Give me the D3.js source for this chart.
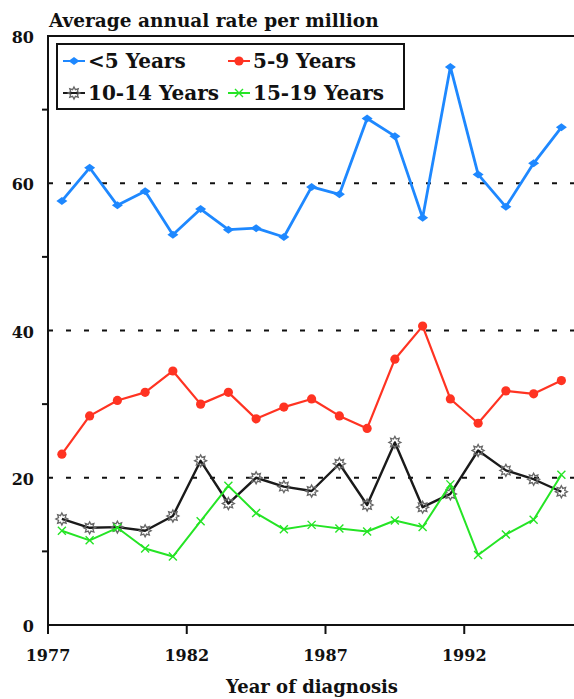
<!DOCTYPE html>
<html>
<head>
<meta charset="utf-8">
<script src="https://cdn.jsdelivr.net/npm/d3@7"></script>
<style>
  html, body { margin: 0; padding: 0; background: #fff; }
  svg { display: block; }
  text { font-family: "DejaVu Serif", serif; font-weight: bold; fill: #111; }
</style>
</head>
<body>
<svg id="chart" width="574" height="699"></svg>
<script>
// Diagnosis years (one value per year)
const years = d3.range(1977, 1996);

// Average annual rate per million, by age group at diagnosis
const under5   = [57.6, 62.1, 57.0, 58.9, 53.0, 56.5, 53.7, 53.9, 52.7, 59.5, 58.5, 68.8, 66.4, 55.3, 75.8, 61.2, 56.8, 62.7, 67.6];
const age5to9  = [23.2, 28.4, 30.5, 31.6, 34.5, 30.0, 31.6, 28.0, 29.6, 30.7, 28.4, 26.7, 36.1, 40.6, 30.7, 27.4, 31.8, 31.4, 33.2];
const age10to14 = [14.4, 13.2, 13.3, 12.8, 14.8, 22.3, 16.5, 20.0, 18.8, 18.2, 21.9, 16.3, 24.8, 16.0, 17.8, 23.7, 21.0, 19.8, 18.1];
const age15to19 = [12.8, 11.5, 13.2, 10.4, 9.3, 14.1, 18.9, 15.2, 13.0, 13.6, 13.1, 12.7, 14.2, 13.3, 19.1, 9.5, 12.3, 14.3, 20.4];

const seriesNames = ["<5 Years", "5-9 Years", "10-14 Years", "15-19 Years"];
const xTickYears = [1977, 1982, 1987, 1992];
const yMajorTicks = [0, 20, 40, 60, 80];
const yGridTicks = [20, 40, 60];
const yMinorTicks = [10, 30, 50, 70];

(function () {
const svg = d3.select("#chart");
const W = 574;

const plotLeft = 48, plotTop = 36, plotBottom = 625;
const x = d3.scaleLinear().domain([1977, 1996]).range([plotLeft, plotLeft + 19 * 27.75]);
const y = d3.scaleLinear().domain([0, 80]).range([plotBottom, plotTop]);

// marker shapes
const diamond = "M-5.5,0L0,-4L5.5,0L0,4Z";
function starPath(n, ro, ri) {
  const pts = [];
  for (let i = 0; i < 2 * n; i++) {
    const a = Math.PI * i / n - Math.PI / 2;
    const r = i % 2 === 0 ? ro : ri;
    pts.push([r * Math.cos(a), r * Math.sin(a)]);
  }
  return "M" + pts.map(p => p[0].toFixed(2) + "," + p[1].toFixed(2)).join("L") + "Z";
}
const star = starPath(8, 6, 3.6);
const cross = "M-4,-4L4,4M-4,4L4,-4";

const series = [
  { name: seriesNames[0], values: under5,    color: "#1e88ff", width: 2.8, marker: "diamond" },
  { name: seriesNames[1], values: age5to9,   color: "#ff3322", width: 2.2, marker: "circle" },
  { name: seriesNames[2], values: age10to14, color: "#1a1a1a", width: 2.4, marker: "star" },
  { name: seriesNames[3], values: age15to19, color: "#25e425", width: 2.0, marker: "cross" }
];

function drawMarker(g, s, cx, cy) {
  if (s.marker === "diamond") {
    g.append("path").attr("d", diamond).attr("transform", `translate(${cx},${cy})`).attr("fill", s.color);
  } else if (s.marker === "circle") {
    g.append("circle").attr("cx", cx).attr("cy", cy).attr("r", 4.6).attr("fill", s.color);
  } else if (s.marker === "star") {
    g.append("path").attr("d", star).attr("transform", `translate(${cx},${cy})`)
      .attr("fill", "none").attr("stroke", "#666").attr("stroke-width", 1.3);
  } else {
    g.append("path").attr("d", cross).attr("transform", `translate(${cx},${cy})`)
      .attr("fill", "none").attr("stroke", s.color).attr("stroke-width", 1.4);
  }
}

// dashed reference lines
svg.append("g").selectAll("line").data(yGridTicks).join("line")
  .attr("x1", plotLeft).attr("x2", W).attr("y1", d => y(d)).attr("y2", d => y(d))
  .attr("stroke", "#111").attr("stroke-width", 1.8).attr("stroke-dasharray", "5,13");

// frame: left axis, top line, bottom axis
const frame = svg.append("g").attr("stroke", "#111").attr("stroke-width", 2);
frame.append("line").attr("x1", plotLeft).attr("x2", plotLeft).attr("y1", plotTop).attr("y2", plotBottom + 9);
frame.append("line").attr("x1", plotLeft - 1).attr("x2", W).attr("y1", plotTop).attr("y2", plotTop);
frame.append("line").attr("x1", plotLeft - 1).attr("x2", W).attr("y1", plotBottom).attr("y2", plotBottom);

// y ticks and labels
frame.selectAll(".ymin").data(yMinorTicks).join("line")
  .attr("x1", plotLeft - 6).attr("x2", plotLeft).attr("y1", d => y(d)).attr("y2", d => y(d));
svg.append("g").selectAll("text").data(yMajorTicks).join("text")
  .attr("x", 34).attr("y", d => y(d) + 7)
  .attr("text-anchor", "end").attr("font-size", 16).text(d => d);

// x ticks and labels
frame.selectAll(".xt").data(xTickYears.slice(1)).join("line")
  .attr("x1", d => x(d)).attr("x2", d => x(d)).attr("y1", plotBottom).attr("y2", plotBottom + 9);
svg.append("g").selectAll("text").data(xTickYears).join("text")
  .attr("x", d => x(d)).attr("y", 661)
  .attr("text-anchor", "middle").attr("font-size", 16).text(d => d);

// titles
svg.append("text").attr("x", 49).attr("y", 27).attr("font-size", 18.5).text("Average annual rate per million");
svg.append("text").attr("x", 312).attr("y", 693).attr("text-anchor", "middle").attr("font-size", 18).text("Year of diagnosis");

// series
const line = d3.line().x((d, i) => x(years[i] + 0.5)).y(d => y(d));
series.forEach(s => {
  const g = svg.append("g");
  g.append("path").datum(s.values).attr("d", line)
    .attr("fill", "none").attr("stroke", s.color).attr("stroke-width", s.width)
    .attr("stroke-linejoin", "round");
  s.values.forEach((v, i) => drawMarker(g, s, x(years[i] + 0.5), y(v)));
});

// legend
const lg = svg.append("g");
lg.append("rect").attr("x", 57).attr("y", 44).attr("width", 347).attr("height", 65)
  .attr("fill", "#fff").attr("stroke", "#111").attr("stroke-width", 2);
const legendPos = [[63, 61], [228, 61], [63, 93], [228, 93]];
series.forEach((s, i) => {
  const [lx, ly] = legendPos[i];
  lg.append("line").attr("x1", lx).attr("x2", lx + 22).attr("y1", ly).attr("y2", ly)
    .attr("stroke", s.color).attr("stroke-width", 2);
  drawMarker(lg, s, lx + 11, ly);
  lg.append("text").attr("x", lx + 25).attr("y", ly + 7).attr("font-size", 20).text(s.name);
});
})();
</script>
</body>
</html>
